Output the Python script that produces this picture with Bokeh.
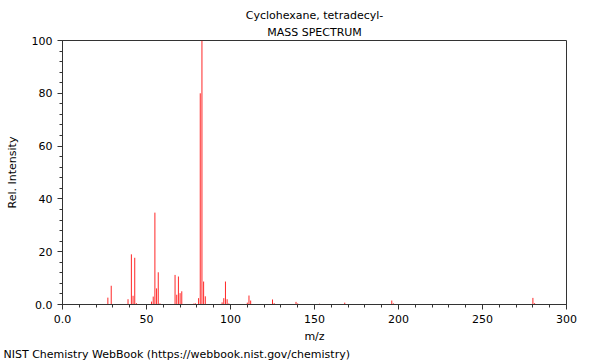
from bokeh.plotting import figure
from bokeh.models import Range1d, FixedTicker, Title
from bokeh.embed import file_html
from bokeh.resources import INLINE

mz = [27, 29, 39, 41, 42, 43, 44, 53, 54, 55, 56, 57, 58, 67, 68, 69, 70, 71,
      78, 79, 81, 82, 83, 84, 85, 95, 96, 97, 98, 99, 110, 111, 112, 125, 126,
      139, 140, 153, 168, 196, 197, 280, 281]
intensity = [2.6, 7.1, 2.0, 19.0, 3.3, 17.7, 0.5, 1.1, 3.0, 34.8, 6.1, 12.2, 0.4,
             11.2, 3.7, 10.6, 4.3, 5.0, 0.3, 0.5, 2.4, 80.0, 100.0, 8.7, 3.1, 0.8,
             2.4, 8.7, 2.0, 0.4, 0.7, 3.4, 1.5, 1.9, 0.5, 1.0, 0.4, 0.3, 0.7, 1.5,
             0.4, 2.5, 0.5]
zeros = [0] * len(mz)

x_major = [0, 50, 100, 150, 200, 250, 300]
x_minor = list(range(0, 301, 10))
x_labels = {0: "0.0"}
y_major = [0, 20, 40, 60, 80, 100]
y_minor = list(range(0, 101, 4))
y_labels = {0: "0.0"}

title_line1 = "Cyclohexane, tetradecyl-"
title_line2 = "MASS SPECTRUM"
footer = "NIST Chemistry WebBook (https://webbook.nist.gov/chemistry)"

FONT = "DejaVu Sans"
FS = "11px"
DARK = "#333333"

p = figure(width=600, height=360, output_backend="svg", toolbar_location=None,
           x_range=Range1d(0, 300), y_range=Range1d(0, 100),
           min_border_left=62, min_border_right=34, min_border_top=40,
           min_border_bottom=56)
p.title.visible = False
p.add_layout(Title(text=title_line2, align="center", text_font=FONT,
                   text_font_size=FS, text_font_style="normal",
                   text_color="#000000", standoff=3), "above")
p.add_layout(Title(text=title_line1, align="center", text_font=FONT,
                   text_font_size=FS, text_font_style="normal",
                   text_color="#000000", standoff=1), "above")

p.segment(x0=mz, y0=zeros, x1=mz, y1=intensity, line_color="#ff0000",
          line_width=1, line_alpha=0.85)

p.xgrid.visible = False
p.ygrid.visible = False
p.outline_line_color = DARK
p.outline_line_width = 1

for ax in (p.xaxis[0], p.yaxis[0]):
    ax.axis_line_color = DARK
    ax.major_tick_line_color = DARK
    ax.minor_tick_line_color = DARK
    ax.major_tick_in = 0
    ax.major_tick_out = 5
    ax.minor_tick_in = 0
    ax.minor_tick_out = 3
    ax.major_label_text_font = FONT
    ax.major_label_text_font_size = FS
    ax.major_label_text_color = "#000000"
    ax.axis_label_text_font = FONT
    ax.axis_label_text_font_size = FS
    ax.axis_label_text_font_style = "normal"
    ax.axis_label_text_color = "#000000"

p.xaxis[0].ticker = FixedTicker(ticks=x_major, minor_ticks=x_minor)
p.xaxis[0].major_label_overrides = x_labels
p.xaxis[0].axis_label = "m/z"
p.xaxis[0].major_label_standoff = 5
p.xaxis[0].axis_label_standoff = 4

p.yaxis[0].ticker = FixedTicker(ticks=y_major, minor_ticks=y_minor)
p.yaxis[0].major_label_overrides = y_labels
p.yaxis[0].axis_label = "Rel. Intensity"
p.yaxis[0].axis_label_standoff = 10

p.add_layout(Title(text=footer, align="left", offset=-59, text_font=FONT,
                   text_font_size=FS, text_font_style="normal",
                   text_color="#000000", standoff=0), "below")

open("out.html", "w").write(file_html(p, INLINE))
